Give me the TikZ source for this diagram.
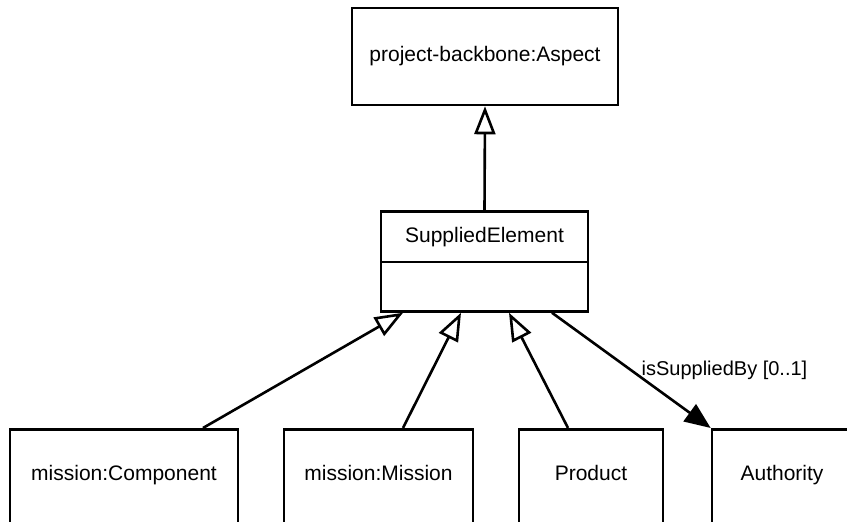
\documentclass[tikz,border=0pt]{standalone}
\usepackage{fontspec}
\setmainfont{Liberation Sans}
\usetikzlibrary{arrows.meta,shapes.multipart}

\begin{document}
\begin{tikzpicture}[
  x=0.5pt, y=-0.5pt,
  line width=1.3pt,
  every node/.style={font=\fontsize{10.5}{12}\selectfont},
  box/.style={draw, rectangle, inner sep=0pt},
  leaf/.style={box, anchor=north, text height=25.75pt, text depth=34pt},
  gen/.style={-{Triangle[open,length=14pt,width=10.5pt]}},
  assoc/.style={-{Triangle[length=13pt,width=10.5pt]}}
]
  \useasboundingbox (0,0) rectangle (847,522);
  \clip (0,0) rectangle (847,522);
  \node[box, minimum width=133pt, minimum height=48.5pt] (aspect) at (485,56.5) {project-backbone:Aspect};
  \node[draw, rectangle split, rectangle split parts=2, anchor=north,
    minimum width=103.5pt, inner ysep=7.1pt,
    rectangle split empty part height=9.3pt] (supplied) at (484.5,210)
    {SuppliedElement \nodepart{two}};
  \node[leaf, minimum width=114pt] (component) at (124,428) {mission:Component};
  \node[leaf, minimum width=94.5pt] (mission) at (378.5,428) {mission:Mission};
  \node[leaf, minimum width=72pt] (product) at (591,428) {Product};
  \node[leaf, minimum width=70pt] (authority) at (782,428) {Authority};

  \draw[gen] (supplied.north) -- (aspect.south);
  \draw[gen] ([xshift=39.5pt]component.north) -- ([xshift=-40.75pt]supplied.south);
  \draw[gen] ([xshift=12.25pt]mission.north) -- ([xshift=-11.75pt]supplied.south);
  \draw[gen] ([xshift=-11.5pt]product.north) -- ([xshift=12.25pt]supplied.south);
  \draw[assoc] ([xshift=33.75pt]supplied.south) -- (authority.north west)
    node[pos=0.5, anchor=west, xshift=4.5pt, inner sep=0pt, font=\fontsize{10}{12}\selectfont] {isSuppliedBy [0..1]};
\end{tikzpicture}
\end{document}
